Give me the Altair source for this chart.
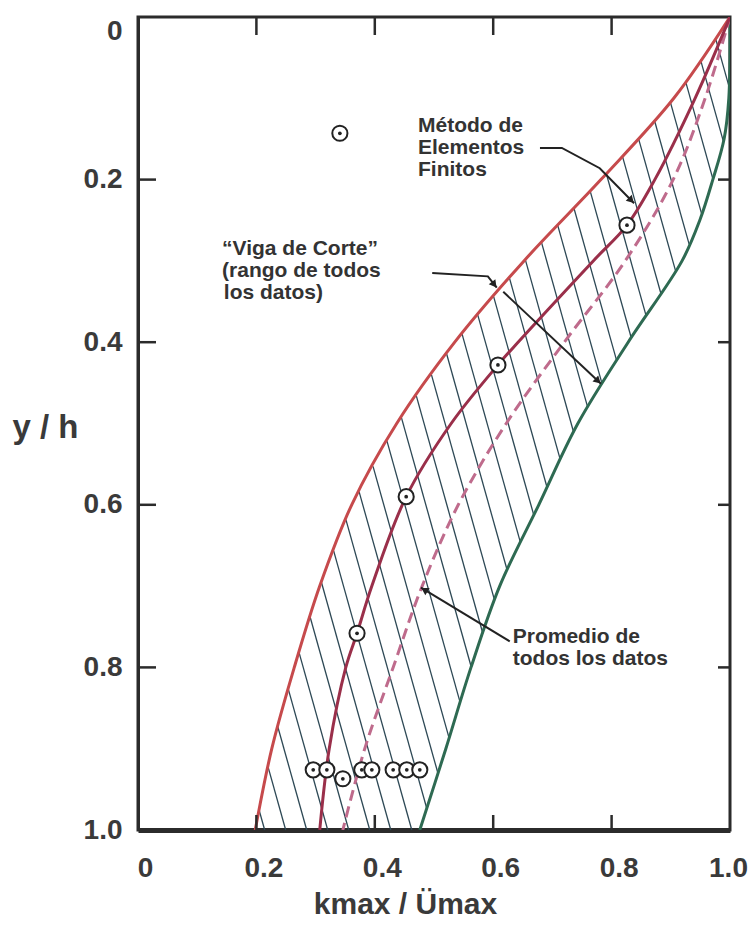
import math
import altair as alt
import numpy as np
import pandas as pd

FONT = "Liberation Sans"
INK = "#2b2b2b"
TXT = "#3a3a3a"

W, H = 592, 813  # plot area in px

# axis ticks
tick_values = [0.0, 0.2, 0.4, 0.6, 0.8, 1.0]
inner_ticks = [0.2, 0.4, 0.6, 0.8]

# "Viga de Corte" envelope: left bound (red) and right bound (green), k/U vs y/h
upper_y = [0.0, 0.1, 0.2, 0.3, 0.4, 0.5, 0.6, 0.7, 0.8, 0.9, 1.0]
upper_x = [1.0, 0.905, 0.782, 0.652, 0.535, 0.437, 0.361, 0.307, 0.264, 0.226, 0.198]
lower_y = [0.0, 0.1, 0.15, 0.2, 0.25, 0.3, 0.4, 0.5, 0.6, 0.7, 0.8, 0.9, 1.0]
lower_x = [1.0, 0.998, 0.990, 0.971, 0.949, 0.919, 0.828, 0.743, 0.677, 0.611, 0.5625, 0.520, 0.476]

# finite element result
fem_y = [0.0, 0.1, 0.2, 0.256, 0.3, 0.4, 0.428, 0.5, 0.59, 0.7, 0.758, 0.8, 0.9, 1.0]
fem_x = [1.0, 0.941, 0.873, 0.826, 0.769, 0.642, 0.608, 0.529, 0.453, 0.395, 0.370, 0.351, 0.323, 0.307]

# mean of all records
mean_y = [0.0, 0.1, 0.2, 0.3, 0.4, 0.5, 0.6, 0.7, 0.8, 0.9, 1.0]
mean_x = [1.0, 0.958, 0.904, 0.823, 0.720, 0.622, 0.541, 0.480, 0.431, 0.383, 0.346]

# measured points
pts_x = [0.341, 0.826, 0.608, 0.453, 0.370, 0.296, 0.319, 0.346, 0.378, 0.395, 0.431, 0.454, 0.476]
pts_y = [0.143, 0.256, 0.428, 0.590, 0.758, 0.926, 0.926, 0.937, 0.926, 0.926, 0.926, 0.926, 0.926]

# annotation text (left edge, baseline)
ann_text = ["Método de", "Elementos", "Finitos",
            "“Viga de Corte”", "(rango de todos", "los datos)",
            "Promedio de", "todos los datos"]
ann_x = [0.473, 0.473, 0.473, 0.142, 0.142, 0.145, 0.633, 0.633]
ann_y = [0.141, 0.168, 0.195, 0.293, 0.320, 0.347, 0.770, 0.797]

# leader lines (last point is the arrow tip)
leaders = [
    [(0.679, 0.161), (0.716, 0.161), (0.780, 0.186), (0.838, 0.229)],
    [(0.497, 0.315), (0.591, 0.319), (0.606, 0.333)],
    [(0.617, 0.338), (0.782, 0.451)],
    [(0.628, 0.768), (0.478, 0.702)],
]

xs = alt.Scale(domain=[0, 1], nice=False, zero=False)
ys = alt.Scale(domain=[0, 1], nice=False, zero=False, reverse=True)

x_axis = alt.Axis(
    values=tick_values,
    labelExpr="datum.value == 0 ? '0' : format(datum.value, '.1f')",
    ticks=False, grid=False, domainColor=INK, domainWidth=5,
    labelFont=FONT, labelFontSize=28, labelFontWeight="bold", labelColor=TXT,
    labelPadding=24, labelFlush=False, labelOverlap=False,
    labelOffset={"condition": {"test": "datum.value == 1", "value": -2}, "value": 7},
    title="kmax / Ümax", titleFont=FONT, titleFontSize=30, titleFontWeight="bold",
    titleColor=TXT, titleX=267, titleY=83, titleAlign="center", titleBaseline="alphabetic",
)
y_axis = alt.Axis(
    values=tick_values,
    labelExpr="datum.value == 0 ? '0' : format(datum.value, '.1f')",
    ticks=False, grid=False, domainColor=INK, domainWidth=3,
    labelFont=FONT, labelFontSize=28, labelFontWeight="bold", labelColor=TXT,
    labelPadding=16, labelFlush=False, labelOverlap=False, labelBaseline="middle",
    labelOffset={"condition": {"test": "datum.value == 0", "value": 14}, "value": 0},
    title="y / h", titleFont=FONT, titleFontSize=33, titleFontWeight="bold",
    titleColor=TXT, titleAngle=0, titleX=-93, titleY=420, titleAlign="center",
    titleBaseline="alphabetic",
)


def X(f):
    return alt.X(f, type="quantitative", scale=xs, axis=x_axis)


def Y(f):
    return alt.Y(f, type="quantitative", scale=ys, axis=y_axis)


# hatching between the two envelope curves
slope = 0.28 * H / W  # hatch direction: dx/dy in px
yy = np.linspace(0, 1, 4001)
ux = np.interp(yy, upper_y, upper_x)
lx = np.interp(yy, lower_y, lower_x)
hatch = []
for u in np.arange(0.214, 1.40, 0.0355):
    v = u + slope * (yy - 1)
    inside = (v >= ux) & (v <= lx) & (v <= 1.0)
    idx = np.nonzero(inside)[0]
    if len(idx) < 2:
        continue
    i0, i1 = idx[0], idx[-1]
    hatch.append({"x": v[i0], "y": yy[i0], "x2": v[i1], "y2": yy[i1]})
hatch_df = pd.DataFrame(hatch)

hatch_layer = alt.Chart(hatch_df).mark_rule(color="#2d4855", strokeWidth=1.3).encode(
    x=X("x"), y=Y("y"), x2="x2", y2="y2"
)


def curve(cx, cy, color, width, dash=None):
    df = pd.DataFrame({"v": cx, "yh": cy, "i": range(len(cx))})
    kw = dict(color=color, strokeWidth=width, interpolate="catmull-rom", clip=True)
    if dash:
        kw["strokeDash"] = dash
    return alt.Chart(df).mark_line(**kw).encode(x=X("v"), y=Y("yh"), order="i:Q")


green = curve(lower_x, lower_y, "#2e6a52", 3)
red = curve(upper_x, upper_y, "#c64a4c", 3)
mean = curve(mean_x, mean_y, "#bf6b8c", 3, dash=[11, 6])
fem = curve(fem_x, fem_y, "#9a2f4a", 3)

# leader lines and arrow heads
lead_rows, head_rows = [], []
for k, pts in enumerate(leaders):
    for j, (a, b) in enumerate(pts):
        lead_rows.append({"v": a, "yh": b, "g": k, "i": j})
    (a0, b0), (a1, b1) = pts[-2], pts[-1]
    dx, dy = (a1 - a0) * W, (b1 - b0) * H
    L = math.hypot(dx, dy)
    ang = math.degrees(math.atan2(dx, -dy)) % 360
    head_rows.append({"v": a1 - dx / L * 4 / W, "yh": b1 - dy / L * 4 / H, "ang": ang})
lead_df = pd.DataFrame(lead_rows)
head_df = pd.DataFrame(head_rows)

leader_layer = alt.Chart(lead_df).mark_line(color="#222222", strokeWidth=2).encode(
    x=X("v"), y=Y("yh"), detail="g:N", order="i:Q"
)
head_layer = alt.Chart(head_df).mark_point(
    shape="triangle-up", filled=True, color="#222222", size=70, opacity=1
).encode(x=X("v"), y=Y("yh"), angle=alt.Angle("ang:Q", scale=None))

pts_df = pd.DataFrame({"v": pts_x, "yh": pts_y})
rings = alt.Chart(pts_df).mark_point(
    shape="circle", fill="white", fillOpacity=1, stroke="#222222", strokeWidth=2,
    size=230, opacity=1
).encode(x=X("v"), y=Y("yh"))
dots = alt.Chart(pts_df).mark_circle(color="#222222", size=14, opacity=1).encode(
    x=X("v"), y=Y("yh")
)

# inward ticks on all four sides
tick_df = pd.DataFrame({"t": inner_ticks})
t_top = alt.Chart(tick_df).mark_rule(color=INK, strokeWidth=2.5).encode(
    x=X("t"), y=alt.value(0), y2=alt.value(18)
)
t_bot = alt.Chart(tick_df).mark_rule(color=INK, strokeWidth=2.5).encode(
    x=X("t"), y=alt.value(H), y2=alt.value(H - 15)
)
t_left = alt.Chart(tick_df).mark_rule(color=INK, strokeWidth=2.5).encode(
    y=Y("t"), x=alt.value(0), x2=alt.value(18)
)
t_right = alt.Chart(tick_df).mark_rule(color=INK, strokeWidth=2.5).encode(
    y=Y("t"), x=alt.value(W), x2=alt.value(W - 12)
)

ann_df = pd.DataFrame({"txt": ann_text, "v": ann_x, "yh": ann_y})
labels = alt.Chart(ann_df).mark_text(
    align="left", baseline="alphabetic", font=FONT, fontSize=21, fontWeight="bold",
    color="#333333"
).encode(x=X("v"), y=Y("yh"), text="txt:N")

chart = alt.layer(
    hatch_layer, green, red, mean, fem, leader_layer, head_layer, rings, dots,
    t_top, t_bot, t_left, t_right, labels
).properties(
    width=W, height=H,
    autosize=alt.AutoSizeParams(type="none"),
    padding={"left": 138, "top": 17, "right": 19, "bottom": 107},
    background="white",
).configure_view(stroke=INK, strokeWidth=3)

chart.save("out.html", embed_options={"renderer": "svg", "actions": False})
